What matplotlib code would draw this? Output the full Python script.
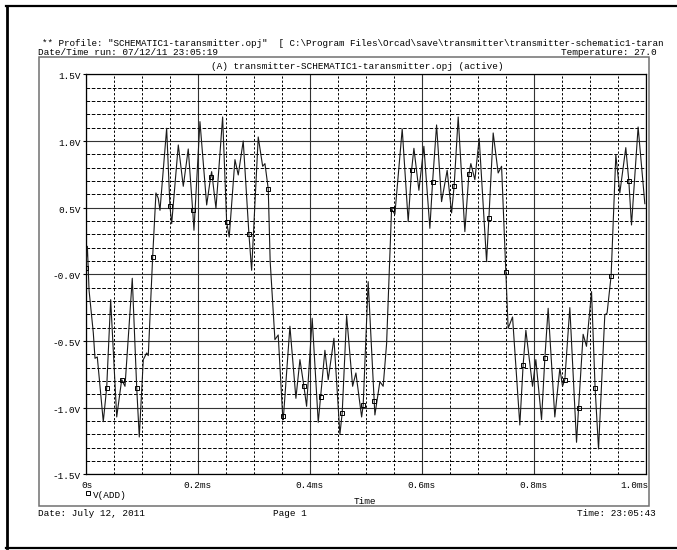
import numpy as np
import matplotlib
matplotlib.use('Agg')
import matplotlib.pyplot as plt
from matplotlib.lines import Line2D
from matplotlib.patches import Rectangle
from matplotlib.ticker import MultipleLocator
from matplotlib.transforms import ScaledTranslation

W, H = 677, 550
plt.rcParams['font.family'] = ['Liberation Mono', 'DejaVu Sans Mono']
plt.rcParams['font.size'] = 6.75
plt.rcParams['lines.scale_dashes'] = False

# ---- data: V(ADD) trace (time in ms, volts) ----
trace_t = [0.003, 0.006, 0.0136, 0.0166, 0.0207, 0.0314, 0.0446, 0.0554, 0.0702,
           0.0832, 0.0957, 0.1029, 0.1089, 0.1118, 0.1255, 0.1296, 0.1327, 0.1446,
           0.1536, 0.1654, 0.1743, 0.1832, 0.1934, 0.2041, 0.2161, 0.225, 0.2327,
           0.2446, 0.2564, 0.2666, 0.2725, 0.2814, 0.2964, 0.3082, 0.3161, 0.3202,
           0.3295, 0.338, 0.3439, 0.3529, 0.3648, 0.3755, 0.3827, 0.3946, 0.4046,
           0.4154, 0.4273, 0.4332, 0.4434, 0.4541, 0.4661, 0.4768, 0.4827, 0.4929,
           0.5046, 0.5166, 0.5255, 0.5314, 0.5375, 0.5523, 0.5654, 0.5761, 0.5863,
           0.5952, 0.6041, 0.6148, 0.6268, 0.6357, 0.6457, 0.6536, 0.6654, 0.6773,
           0.688, 0.6952, 0.7029, 0.7161, 0.7279, 0.7368, 0.7429, 0.7546, 0.7625,
           0.7755, 0.7863, 0.7982, 0.8041, 0.8143, 0.8261, 0.838, 0.847, 0.8518,
           0.8648, 0.8768, 0.8886, 0.8946, 0.9036, 0.9161, 0.9273, 0.9314, 0.947,
           0.9541, 0.9648, 0.975, 0.9868, 0.9988]
trace_v = [0.21, -0.12, -0.44, -0.63, -0.62, -1.105, -0.19, -1.07, -0.84,
           -0.03, -1.22, -0.64, -0.59, -0.61, 0.61, 0.57, 0.48, 1.095,
           0.38, 0.97, 0.66, 0.94, 0.33, 1.145, 0.52, 0.77, 0.495,
           1.18, 0.28, 0.86, 0.745, 1.0, 0.03, 1.03, 0.81, 0.83,
           0.1, -0.49, -0.455, -1.09, -0.39, -0.93, -0.64, -0.99, -0.33,
           -1.11, -0.57, -0.79, -0.48, -1.2, -0.31, -0.84, -0.74, -1.07,
           -0.055, -1.055, -0.805, -0.84, -0.52, 0.45, 1.09, 0.395, 0.945,
           0.63, 0.96, 0.345, 1.12, 0.545, 0.78, 0.46, 1.18, 0.32,
           0.83, 0.71, 1.02, 0.095, 1.06, 0.76, 0.81, -0.405, -0.32,
           -1.13, -0.42, -0.84, -0.64, -1.09, -0.255, -1.07, -0.705, -0.84,
           -0.25, -1.26, -0.45, -0.54, -0.13, -1.31, -0.305, -0.29, 0.895,
           0.61, 0.95, 0.37, 1.105, 0.53]

# square markers on the trace
marker_t = [0.0, 0.0375, 0.0643, 0.0911, 0.1196, 0.1505, 0.1911, 0.2232, 0.2518,
            0.2916, 0.3261, 0.3518, 0.3898, 0.4196, 0.4582, 0.4957, 0.5154, 0.5464,
            0.5821, 0.6196, 0.6582, 0.6845, 0.7202, 0.7505, 0.7814, 0.8202, 0.8559,
            0.8804, 0.91, 0.9386, 0.9702]
marker_v = [0.05, -0.85, -0.79, -0.85, 0.13, 0.51, 0.48, 0.73, 0.39,
            0.30, 0.64, -1.06, -0.84, -0.92, -1.04, -0.98, -0.95, 0.49,
            0.78, 0.69, 0.665, 0.75, 0.42, 0.02, -0.68, -0.63, -0.79,
            -1.005, -0.855, -0.01, 0.70]

x_ticks = [0.0, 0.2, 0.4, 0.6, 0.8, 1.0]
x_tick_labels = ['0s', '0.2ms', '0.4ms', '0.6ms', '0.8ms', '1.0ms']
y_ticks = [-1.5, -1.0, -0.5, 0.0, 0.5, 1.0, 1.5]
y_tick_labels = ['-1.5V', '-1.0V', '-0.5V', '-0.0V', '0.5V', '1.0V', '1.5V']

header_profile = ('** Profile: "SCHEMATIC1-taransmitter.opj"  [ C:\\Program Files'
                  '\\Orcad\\save\\transmitter\\transmitter-schematic1-taran')
header_date = 'Date/Time run: 07/12/11 23:05:19'
header_temp = 'Temperature: 27.0'
plot_title = '(A) transmitter-SCHEMATIC1-taransmitter.opj (active)'
legend_label = 'V(ADD)'
x_label = 'Time'
footer_date = 'Date: July 12, 2011'
footer_page = 'Page 1'
footer_time = 'Time: 23:05:43'

# ---- figure ----
fig = plt.figure(figsize=(W / 100, H / 100), dpi=100)
fig.patch.set_facecolor('white')


def fx(px):
    return px / W


def fy(py):
    return 1 - py / H


L, R, T, B = 85.7, 645.5, 74.3, 474.3
ax = fig.add_axes([fx(L), fy(B), (R - L) / W, (B - T) / H])
ax.set_xlim(0, 1.0)
ax.set_ylim(-1.5, 1.5)

ax.set_xticks(x_ticks)
ax.set_xticklabels(x_tick_labels)
ax.set_yticks(y_ticks)
ax.set_yticklabels(y_tick_labels)
ax.xaxis.set_minor_locator(MultipleLocator(0.05))
ax.yaxis.set_minor_locator(MultipleLocator(0.1))

ax.grid(which='major', color='#333333', lw=0.8, ls='-')
ax.xaxis.grid(True, which='minor', color='black', lw=0.7, ls=(0, (1.6, 1.4)))
ax.yaxis.grid(True, which='minor', color='black', lw=0.7, ls=(0, (2.6, 1.2)))
ax.set_axisbelow(True)

ax.tick_params(axis='x', which='both', length=0, pad=4.6)
ax.tick_params(axis='y', which='major', length=2.5, width=0.8, pad=1.2, direction='out')
ax.tick_params(axis='y', which='minor', length=0)
for sp in ax.spines.values():
    sp.set_color('black')
    sp.set_linewidth(0.9)

for lbl in ax.get_yticklabels():
    lbl.set_transform(lbl.get_transform() + ScaledTranslation(0, -1.5 / 100, fig.dpi_scale_trans))
xl = ax.get_xticklabels()
xl[0].set_transform(xl[0].get_transform() + ScaledTranslation(1 / 100, 0, fig.dpi_scale_trans))
xl[-1].set_ha('right')
xl[-1].set_transform(xl[-1].get_transform() + ScaledTranslation(3 / 100, 0, fig.dpi_scale_trans))

# trace passes through the marker points as well
all_t = np.array(trace_t + marker_t)
all_v = np.array(trace_v + marker_v)
order = np.argsort(all_t)
ax.plot(all_t[order], all_v[order], color='#1a1a1a', lw=0.8, zorder=3)
ax.plot(marker_t, marker_v, ls='', marker='s', ms=3.4, mfc='none', mec='black',
        mew=0.7, zorder=4)

# ---- surrounding texts and frames ----
fig.text(fx(42), fy(44), header_profile, ha='left', va='center', fontsize=6.65)
fig.text(fx(38), fy(52.5), header_date, ha='left', va='center')
fig.text(fx(657), fy(52.5), header_temp, ha='right', va='center')
fig.text(fx(357), fy(66.5), plot_title, ha='center', va='center')

fig.add_artist(Line2D([fx(87.5)], [fy(492.5)], marker='s', ms=3.0, mfc='none',
                      mec='black', mew=0.7, ls='', transform=fig.transFigure))
fig.text(fx(93), fy(495), legend_label, ha='left', va='center')
fig.text(fx(365), fy(501), x_label, ha='center', va='center')
fig.text(fx(38), fy(513), footer_date, ha='left', va='center')
fig.text(fx(290), fy(513), footer_page, ha='center', va='center')
fig.text(fx(656), fy(513), footer_time, ha='right', va='center')

fig.add_artist(Rectangle((fx(39), fy(506)), (649 - 39) / W, (506 - 57) / H,
                         transform=fig.transFigure, fill=False, ec='#707070', lw=1.1))
fig.add_artist(Line2D([fx(7), fx(7)], [fy(5.5), fy(548)], color='black', lw=2.0,
                      transform=fig.transFigure))
fig.add_artist(Line2D([fx(6), fx(677)], [fy(5.5), fy(5.5)], color='black', lw=1.6,
                      transform=fig.transFigure))
fig.add_artist(Line2D([fx(6), fx(677)], [fy(548), fy(548)], color='black', lw=1.6,
                      transform=fig.transFigure))

fig.savefig('out.png', dpi=100)
